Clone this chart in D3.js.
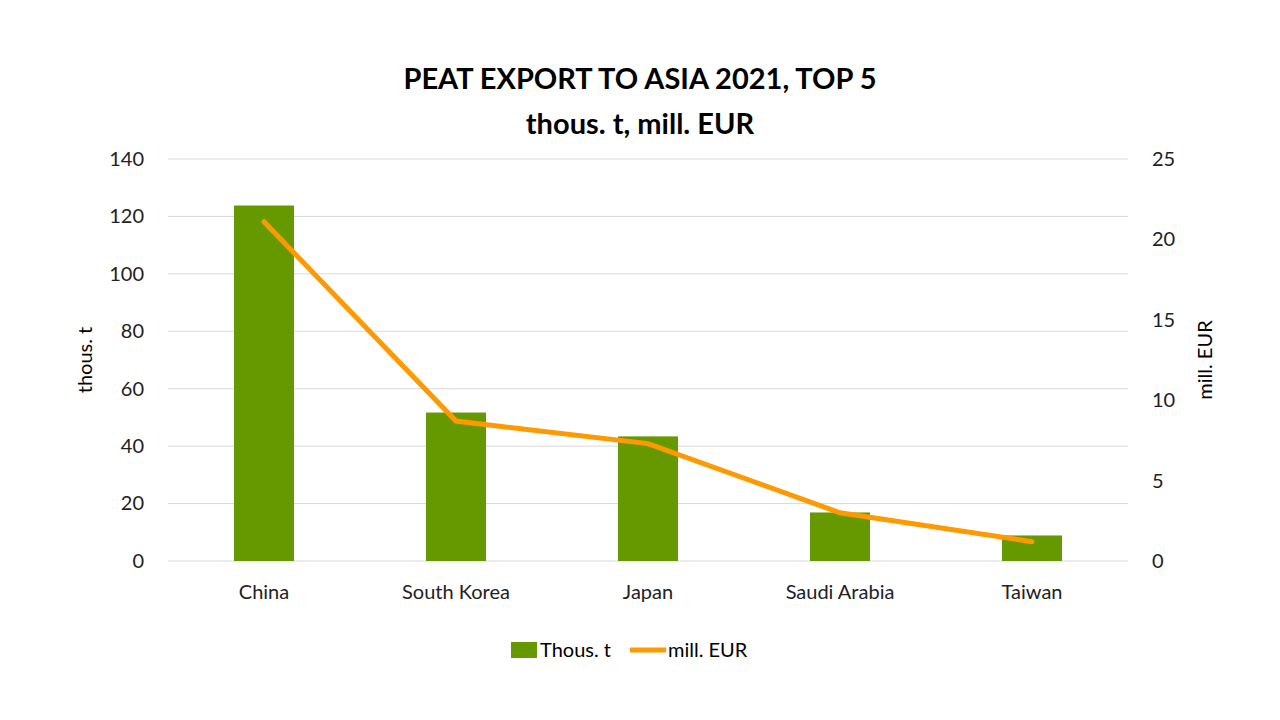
<!DOCTYPE html><html><head><meta charset="utf-8"><script src="https://cdn.jsdelivr.net/npm/d3@7"></script>
<style>body{margin:0;background:#fff}text{font-family:Lato,"Open Sans",sans-serif}</style></head><body><svg width="1280" height="720"></svg>
<script>
const categories=["China","South Korea","Japan","Saudi Arabia","Taiwan"];
const tonnes=[123.8,51.7,43.4,16.9,8.9];
const eur=[21.1,8.7,7.3,3.0,1.2];
const leftTicks=[0,20,40,60,80,100,120,140];
const rightTicks=[0,5,10,15,20,25];
const svg=d3.select("svg");
const x=d3.scaleBand().domain(categories).range([168,1128]);
const yL=d3.scaleLinear().domain([0,140]).range([561,159]);
const yR=d3.scaleLinear().domain([0,25]).range([561,159]);
svg.append("g").selectAll("line").data(leftTicks).join("line").attr("x1",168).attr("x2",1128).attr("y1",d=>yL(d)).attr("y2",d=>yL(d)).attr("stroke","#d9d9d9");
const ax=svg.append("g").attr("transform","translate(168,0)").call(d3.axisLeft(yL).tickValues(leftTicks).tickSize(0).tickPadding(24));
ax.select(".domain").remove();ax.selectAll("text").attr("font-size",20).attr("fill","#222");
const ar=svg.append("g").attr("transform","translate(1128,0)").call(d3.axisRight(yR).tickValues(rightTicks).tickSize(0).tickPadding(24));
ar.select(".domain").remove();ar.selectAll("text").attr("font-size",20).attr("fill","#222");
const axb=svg.append("g").attr("transform","translate(0,561)").call(d3.axisBottom(x).tickSize(0).tickPadding(24));
axb.select(".domain").remove();axb.selectAll("text").attr("font-size",20).attr("fill","#222");
svg.selectAll("rect.b").data(tonnes).join("rect").attr("fill","#669900").attr("x",(d,i)=>x(categories[i])+x.bandwidth()/2-30).attr("width",60).attr("y",d=>yL(d)).attr("height",d=>561-yL(d));
svg.append("path").datum(eur).attr("fill","none").attr("stroke","#ff9900").attr("stroke-width",5).attr("stroke-linecap","round")
 .attr("d",d3.line().x((d,i)=>x(categories[i])+x.bandwidth()/2).y(d=>yR(d)));
svg.append("text").attr("x",640).attr("y",89).attr("text-anchor","middle").attr("font-size",29).attr("font-weight","bold").text("PEAT EXPORT TO ASIA 2021, TOP 5");
svg.append("text").attr("x",640).attr("y",134).attr("text-anchor","middle").attr("font-size",29).attr("font-weight","bold").text("thous. t, mill. EUR");
svg.append("text").attr("transform","translate(92,360) rotate(-90)").attr("text-anchor","middle").attr("font-size",20).text("thous. t");
svg.append("text").attr("transform","translate(1212,360) rotate(-90)").attr("text-anchor","middle").attr("font-size",20).text("mill. EUR");
svg.append("rect").attr("x",511).attr("y",642).attr("width",26).attr("height",16).attr("fill","#669900");
svg.append("text").attr("x",540).attr("y",657).attr("font-size",20).text("Thous. t");
svg.append("line").attr("x1",630).attr("x2",666).attr("y1",650).attr("y2",650).attr("stroke","#ff9900").attr("stroke-width",5);
svg.append("text").attr("x",668).attr("y",657).attr("font-size",20).text("mill. EUR");
</script></body></html>
